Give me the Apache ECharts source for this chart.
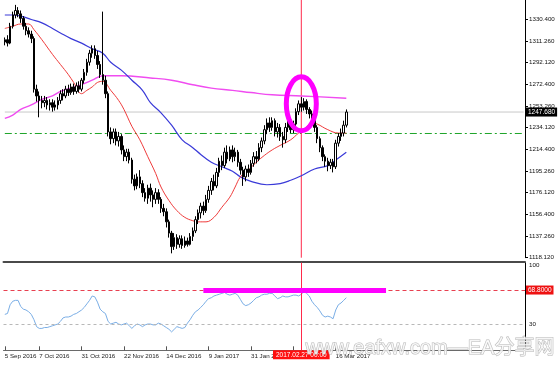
<!DOCTYPE html>
<html><head><meta charset="utf-8">
<script src="https://cdn.jsdelivr.net/npm/echarts@6/dist/echarts.min.js"></script>
<style>html,body{margin:0;padding:0;background:#fff}#c{width:559px;height:365px}</style>
</head><body><div id="c"></div>
<script>
// ---- data ----
const priceTickLabels = ['1118.120','1137.260','1156.400','1176.120','1195.260','1214.400','1234.120','1253.260','1272.400','1292.120','1311.260','1330.400'];
const dateTicks = [[0,'5 Sep 2016'],[13,'7 Oct 2016'],[29,'31 Oct 2016'],[45,'22 Nov 2016'],[61,'14 Dec 2016'],[77,'9 Jan 2017'],[93,'31 Jan 2017'],[109,'22 Feb 2017'],[125,'16 Mar 2017']];
// [open, close, low, high]
const candles = [
[1310,1312,1307,1314],[1312,1309,1306,1316],[1309,1324,1308,1327],[1324,1334,1322,1337],[1334,1338,1331,1343],
[1338,1335,1332,1341],[1335,1331,1327,1338],[1331,1324,1321,1333],[1324,1320,1316,1327],[1320,1317,1314,1323],
[1317,1313,1309,1320],[1313,1268,1265,1315],[1268,1262,1257,1272],[1262,1258,1243,1266],[1258,1256,1251,1262],
[1256,1258,1252,1262],[1258,1254,1250,1261],[1254,1256,1249,1259],[1256,1252,1248,1259],[1252,1254,1249,1258],
[1254,1258,1250,1261],[1258,1264,1255,1267],[1264,1262,1258,1268],[1262,1268,1260,1271],[1268,1265,1262,1272],
[1265,1270,1263,1273],[1270,1266,1263,1273],[1266,1271,1264,1274],[1271,1268,1265,1275],[1268,1276,1266,1278],
[1276,1283,1273,1286],[1283,1292,1280,1295],[1292,1300,1289,1303],[1300,1304,1296,1307],[1304,1298,1295,1307],
[1298,1290,1286,1302],[1290,1281,1278,1293],[1281,1276,1272,1337],[1276,1264,1260,1280],[1264,1230,1226,1266],
[1230,1224,1219,1234],[1224,1230,1220,1233],[1230,1222,1218,1233],[1222,1226,1217,1230],[1226,1214,1210,1228],
[1214,1208,1204,1218],[1208,1212,1204,1215],[1212,1205,1202,1215],[1205,1188,1184,1207],[1188,1182,1178,1192],
[1182,1190,1179,1193],[1190,1184,1180,1196],[1184,1176,1172,1187],[1176,1171,1168,1180],[1171,1180,1166,1183],
[1180,1174,1168,1184],[1174,1170,1163,1178],[1170,1176,1166,1180],[1176,1170,1166,1179],[1170,1162,1158,1172],
[1162,1159,1155,1166],[1159,1150,1145,1162],[1150,1140,1136,1152],[1140,1128,1122,1142],[1128,1136,1125,1140],
[1136,1130,1126,1139],[1130,1135,1127,1138],[1135,1129,1126,1138],[1129,1133,1127,1137],[1133,1130,1128,1136],
[1130,1137,1129,1140],[1137,1142,1133,1145],[1142,1152,1140,1155],[1152,1158,1148,1161],[1158,1164,1153,1167],
[1164,1160,1156,1168],[1160,1170,1158,1174],[1170,1178,1167,1182],[1178,1186,1174,1189],[1186,1182,1178,1192],
[1182,1194,1180,1198],[1194,1204,1190,1207],[1204,1200,1196,1209],[1200,1212,1198,1216],[1212,1206,1202,1218],
[1206,1214,1204,1217],[1214,1208,1203,1218],[1208,1212,1204,1216],[1212,1203,1199,1214],[1203,1196,1192,1206],
[1196,1190,1182,1199],[1190,1197,1186,1200],[1197,1194,1190,1201],[1194,1202,1192,1205],[1202,1208,1199,1212],
[1208,1206,1202,1213],[1206,1216,1204,1220],[1216,1222,1212,1225],[1222,1232,1219,1236],[1232,1238,1228,1242],
[1238,1234,1230,1243],[1234,1240,1231,1243],[1240,1230,1226,1242],[1230,1234,1225,1238],[1234,1226,1222,1237],
[1226,1223,1216,1230],[1223,1234,1220,1238],[1234,1238,1230,1242],[1238,1232,1229,1241],[1232,1237,1229,1240],
[1237,1248,1234,1251],[1248,1255,1245,1258],[1255,1252,1248,1261],[1252,1257,1249,1260],[1257,1250,1246,1259],
[1250,1246,1242,1252],[1246,1244,1239,1249],[1244,1234,1230,1246],[1234,1224,1220,1236],[1224,1216,1212,1226],
[1216,1208,1204,1218],[1208,1204,1199,1210],[1204,1200,1195,1207],[1200,1203,1197,1206],[1203,1199,1194,1206],
[1199,1220,1197,1223],[1220,1226,1217,1229],[1226,1229,1222,1233],[1229,1236,1226,1240],[1236,1247.68,1234,1250]
];
// moving averages: [bar index, price]
const maRed = [[0,1322],[3,1324],[6,1326],[9,1326],[11,1321],[14,1312],[18,1299],[21,1290],[24,1281],[26,1274],[29,1264],[31,1267],[33,1270],[35,1274],[37,1275],[40,1267],[43,1258],[45,1250],[48,1235],[51,1223],[54,1208],[57,1193],[59,1181],[62,1169],[65,1160],[68,1154],[71,1151],[73,1150],[76,1150],[79,1154],[82,1163],[85,1172],[87,1181],[89,1190],[92,1196],[95,1203],[98,1209],[101,1214],[104,1218],[108,1223],[111,1229],[113,1232],[116,1238],[118,1237],[122,1232],[126,1229],[129,1229]];
const maBlue = [[0,1334],[3,1334],[6,1333],[10,1330],[14,1327],[18,1322],[21,1318],[25,1313],[29,1309],[33,1304],[37,1300],[40,1292],[44,1285],[48,1276],[52,1267],[55,1256],[59,1247],[63,1236],[67,1223],[71,1216],[74,1210],[78,1203],[82,1199],[86,1195],[89,1190],[93,1186],[99,1183],[104,1184],[108,1187],[112,1191],[117,1197],[122,1200],[125,1205],[129,1212]];
const maMagenta = [[0,1242],[3,1245],[6,1250],[10,1254],[14,1259],[18,1262],[21,1266],[25,1269],[29,1272],[33,1276],[37,1280],[44,1280],[55,1278],[63,1276],[71,1272],[78,1269],[86,1267],[93,1265],[101,1263],[112,1262],[129,1260]];
const rsi = [41,42,52,56,57,57,50,47,46,44,41,35,27,25,25,26,26,27,28,29,
30,33,37,38,38,39,41,42,44,46,49,53,57,62,61,55,47,44,42,33,
30,31,32,30,29,30,31,28,25,28,30,29,27,29,30,30,29,29,31,30,
28,26,24,21,24,27,26,25,26,31,35,40,44,46,49,52,56,59,60,62,
63,64,65,66,64,63,64,65,63,58,53,51,52,54,57,60,61,63,64,64,
65,65,62,59,60,62,61,61,62,63,63,62,64,67,65,62,56,52,49,45,
40,38,39,38,36,46,52,54,57,60];
const bidPrice = 1247.68;
const dashLevel = 1228.6;
const rsiLevel = 68.8;
const rsiLow = 30;
const markIndex = 112;
const markLabel = '2017.02.27 00:00';
const circleAt = [112, 1255];
const rsiHighlight = [75, 144];

// ---- layout ----
const slotCount = 197;
const slots = Array.from({length: slotCount}, (_, i) => String(i));
const lastSlot = slotCount - 1;
const priceMin = 1118.12, priceStep = priceMin / 58, priceMax = 1347.34;
const tickMap = {}; dateTicks.forEach(d => tickMap[d[0]] = d[1]);
const isTick = (i) => tickMap[i] !== undefined;
const F = '"Liberation Sans", "DejaVu Sans", sans-serif';
const markRed = '#ff2a4a';

const guide = (data, color, type, z) => ({
  type: 'line', xAxisIndex: 0, yAxisIndex: 0, data: data, showSymbol: false, symbol: 'none',
  silent: true, z: z, lineStyle: {color: color, width: 1, type: type}
});

const chart = echarts.init(document.getElementById('c'), null, {renderer: 'canvas'});
chart.setOption({
  animation: false,
  backgroundColor: '#ffffff',
  axisPointer: {triggerOn: 'none'},
  grid: [
    {left: 3.5, right: 34, top: 0, bottom: 107.3},
    {left: 3.5, right: 34, top: 262.7, bottom: 14.7}
  ],
  xAxis: [
    {type: 'category', gridIndex: 0, data: slots, offset: 4,
     axisLine: {show: true, onZero: false, lineStyle: {color: '#4a4a4a', width: 2}},
     axisTick: {show: false}, axisLabel: {show: false}, splitLine: {show: false}},
    {type: 'category', gridIndex: 1, data: slots,
     axisLine: {show: true, onZero: false, lineStyle: {color: '#6a6a6a', width: 1}},
     axisTick: {show: true, inside: true, length: 4, alignWithLabel: true, interval: (i) => isTick(i), lineStyle: {color: '#555'}},
     axisLabel: {show: true, interval: 0, formatter: (v, i) => tickMap[i] || '',
       align: 'left', fontSize: 6.2, fontFamily: F, color: '#222', margin: 3},
     splitLine: {show: false},
     axisPointer: {show: true, type: 'line', value: markIndex, status: 'show', triggerTooltip: false,
       lineStyle: {color: markRed, width: 1, type: 'solid', opacity: 0},
       label: {show: true, formatter: () => markLabel, backgroundColor: '#ff1010', color: '#fff',
         fontSize: 6.5, fontFamily: F, padding: [1, 3, 1, 3], margin: 0, borderRadius: 0}}}
  ],
  yAxis: [
    {type: 'value', gridIndex: 0, position: 'right', min: priceMin, max: priceMax, interval: priceStep,
     axisLine: {show: true, lineStyle: {color: '#000'}},
     axisTick: {show: true, length: 3, lineStyle: {color: '#000'}},
     splitLine: {show: false},
     axisLabel: {fontSize: 6.2, fontFamily: F, color: '#111', margin: 4, showMaxLabel: false,
       formatter: (v) => { const k = (v - priceMin) / priceStep; const r = Math.round(k);
         return (Math.abs(k - r) < 0.02 && r >= 0 && r < priceTickLabels.length) ? priceTickLabels[r] : ''; }},
     axisPointer: {show: true, type: 'line', value: bidPrice, status: 'show', triggerTooltip: false,
       lineStyle: {color: '#c4c4c4', width: 1, opacity: 0},
       label: {show: true, formatter: () => bidPrice.toFixed(3), backgroundColor: '#000', color: '#fff',
         fontSize: 6.5, fontFamily: F, padding: [1, 2, 1, 2], margin: 1, borderRadius: 0}}},
    {type: 'value', gridIndex: 1, position: 'right', min: 0, max: 100, interval: 10,
     axisLine: {show: true, lineStyle: {color: '#000'}},
     axisTick: {show: false},
     splitLine: {show: false},
     axisLabel: {fontSize: 6.2, fontFamily: F, color: '#111', margin: 4,
       formatter: (v) => v === 100 ? '{t|100}' : (v === rsiLow ? '30' : ''),
       rich: {t: {fontSize: 6.2, fontFamily: F, color: '#111', padding: [6, 0, 0, 0]}}},
     axisPointer: {show: true, type: 'line', value: rsiLevel, status: 'show', triggerTooltip: false,
       lineStyle: {color: '#e84050', width: 1, opacity: 0},
       label: {show: true, formatter: () => rsiLevel.toFixed(4), backgroundColor: '#ee1111', color: '#fff',
         fontSize: 6.5, fontFamily: F, padding: [1, 2, 1, 2], margin: 1, borderRadius: 0}}}
  ],
  series: [
    guide([[0, bidPrice], [lastSlot, bidPrice]], '#c8c8c8', 'solid', 1),
    guide([[0, dashLevel], [lastSlot, dashLevel]], '#1fa52a', [7, 3, 2, 3], 1),
    guide([[markIndex, priceMin], [markIndex, priceMax]], markRed, 'solid', 2),
    {type: 'candlestick', xAxisIndex: 0, yAxisIndex: 0, data: candles, barWidth: 2, z: 4,
     itemStyle: {color: '#ffffff', color0: '#000000', borderColor: '#000000', borderColor0: '#000000', borderWidth: 1}},
    {type: 'line', xAxisIndex: 0, yAxisIndex: 0, data: maMagenta, smooth: 0.4, showSymbol: false,
     lineStyle: {color: '#f04cf0', width: 1.4}, z: 3},
    {type: 'line', xAxisIndex: 0, yAxisIndex: 0, data: maBlue, smooth: 0.4, showSymbol: false,
     lineStyle: {color: '#3a3ad8', width: 1.2}, z: 3},
    {type: 'line', xAxisIndex: 0, yAxisIndex: 0, data: maRed, smooth: 0.4, showSymbol: false,
     lineStyle: {color: '#ef3b3b', width: 1}, z: 3},
    {type: 'custom', xAxisIndex: 0, yAxisIndex: 0, data: [circleAt], silent: true, z: 10,
     renderItem: (params, api) => {
       const c = api.coord([api.value(0), api.value(1)]);
       return {type: 'ellipse', shape: {cx: c[0], cy: c[1], rx: 15, ry: 27},
         style: {fill: 'none', stroke: '#ff00ff', lineWidth: 5}};
     }},
    {type: 'line', xAxisIndex: 1, yAxisIndex: 1, data: rsi, showSymbol: false,
     lineStyle: {color: '#7aaee6', width: 1},
     markLine: {silent: true, symbol: 'none', label: {show: false},
       data: [
         {yAxis: rsiLow, lineStyle: {color: '#b8b8b8', type: [3, 3], width: 1}},
         {yAxis: rsiLevel, lineStyle: {color: '#e84050', type: [4, 3], width: 1}},
         {xAxis: markIndex, lineStyle: {color: markRed, width: 1, type: 'solid'}},
         [{coord: [rsiHighlight[0], rsiLevel], lineStyle: {color: '#ff00ff', width: 5, type: 'solid'}},
          {coord: [rsiHighlight[1], rsiLevel]}]
       ]}}
  ],
  graphic: [
    {type: 'text', left: 305, top: 338, z: 100, silent: true,
     style: {text: 'www.eafxw.com—EA分享网', fill: 'rgba(255,255,255,0.75)', stroke: '#b8b8b8', lineWidth: 1,
       font: '20px "Liberation Sans", "Noto Sans CJK SC", sans-serif'}}
  ]
});
</script></body></html>
